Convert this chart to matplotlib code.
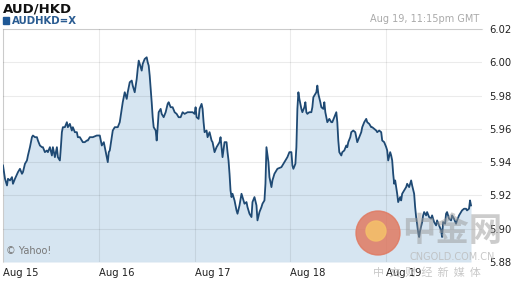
import matplotlib
matplotlib.use("Agg")
import matplotlib.pyplot as plt
from matplotlib.patches import Ellipse, Rectangle

# ---- data (hours since Aug 15 00:00 GMT, AUD/HKD rate) ----
hours = [0.0, 0.5, 1.0, 1.25, 1.75, 2.25, 2.5, 3.0, 3.75, 4.25, 4.75, 5.0, 5.5, 6.0, 6.25, 6.75,
         7.25, 7.5, 8.0, 8.5, 8.75, 9.25, 9.75, 10.0, 10.5, 11.0, 11.25, 11.75, 12.25, 12.5, 13.0,
         13.5, 13.75, 14.25, 14.5, 14.75, 15.0, 15.5, 16.0, 16.25, 16.75, 17.25, 17.5, 18.0, 18.5,
         18.75, 19.25, 19.75, 20.0, 20.5, 21.0, 21.25, 21.75, 22.5, 23.5, 24.25,
         24.75, 25.25, 25.75, 26.25, 26.5, 26.75, 27.25, 27.5, 28.0, 28.75, 29.25, 29.75, 30.0,
         30.5, 31.0, 31.25, 31.75, 32.25, 32.5, 33.0, 33.5, 33.75, 34.0, 34.5, 34.75, 35.0, 35.5,
         36.0, 36.25, 36.5, 36.75, 37.0, 37.25, 37.5, 37.75, 38.25, 38.5, 38.75, 39.0, 39.5,
         39.75, 40.25, 40.75, 41.25, 41.5, 42.0, 42.5, 43.0, 43.5, 44.0, 44.5, 45.0, 45.5, 46.25,
         46.75, 47.25, 47.5, 48.0, 48.25, 48.5, 49.0, 49.25, 49.75, 50.0, 50.25, 50.5, 51.0,
         51.25, 51.75, 52.25, 52.5, 53.0, 53.5, 53.75, 54.25, 54.5, 54.75, 55.0, 55.5, 56.0,
         56.25, 56.5, 56.75, 57.0, 57.25, 57.5, 58.0, 58.5, 58.75, 59.25, 59.75, 60.0, 60.5,
         61.0, 61.25, 61.75, 62.25, 62.5, 63.0, 63.5, 63.75, 64.25, 64.75, 65.0, 65.5, 65.75,
         66.0, 66.5, 66.75, 67.25, 67.5, 68.0, 68.5, 68.75, 69.75, 70.5, 71.25, 71.75, 72.25,
         72.5, 72.75, 73.25, 73.5, 73.75, 74.0, 74.25, 74.75, 75.0, 75.5, 75.75, 76.0, 76.25,
         76.75, 77.25, 77.5, 77.75, 78.25, 78.5, 78.75, 79.0, 79.5, 79.75, 80.25, 80.5, 80.75,
         81.0, 81.25, 81.75, 82.25, 82.5, 83.0, 83.5, 83.75, 84.0, 84.25, 84.75, 85.0, 85.5,
         86.0, 86.25, 86.5, 87.0, 87.25, 87.75, 88.25, 88.5, 88.75, 89.25, 89.75, 90.0, 90.5,
         91.0, 91.25, 91.75, 92.25, 92.5, 93.0, 93.5, 93.75, 94.25, 94.75, 95.0, 95.5, 96.0, 96.25,
         96.5, 97.0, 97.25, 97.5, 97.75, 98.0, 98.25, 98.5, 98.75, 99.0, 99.5, 99.75, 100.0,
         100.5, 101.0, 101.25, 101.75, 102.25, 102.5, 103.0, 103.25, 103.5, 103.75, 104.0,
         104.25, 104.5, 105.0, 105.25, 105.5, 106.0, 106.25, 106.75, 107.25, 107.5, 108.0,
         108.5, 108.75, 109.25, 109.75, 110.0, 110.25, 110.75, 111.0, 111.25, 111.75, 112.25,
         112.5, 113.0, 113.5, 113.75, 114.25, 114.75, 115.0, 115.5, 116.0, 116.25, 116.75,
         117.0, 117.25]
rate = [5.938, 5.930, 5.926, 5.930, 5.929, 5.931, 5.927, 5.930, 5.934, 5.936, 5.933, 5.934, 5.939,
        5.941, 5.944, 5.949, 5.955, 5.956, 5.955, 5.955, 5.953, 5.950, 5.949, 5.949, 5.946, 5.947,
        5.946, 5.949, 5.944, 5.949, 5.943, 5.949, 5.943, 5.941, 5.949, 5.958, 5.961, 5.961, 5.964,
        5.961, 5.963, 5.959, 5.961, 5.958, 5.958, 5.955, 5.955, 5.953, 5.952, 5.952, 5.953, 5.953,
        5.955, 5.955, 5.956, 5.956,
        5.950, 5.952, 5.946, 5.940, 5.946, 5.947, 5.955, 5.959, 5.961, 5.961, 5.964, 5.972, 5.976,
        5.982, 5.978, 5.982, 5.988, 5.989, 5.986, 5.982, 5.990, 5.996, 6.001, 5.997, 5.995, 5.999,
        6.002, 6.003, 6.000, 5.998, 5.992, 5.984, 5.976, 5.967, 5.961, 5.959, 5.953, 5.961, 5.970,
        5.972, 5.969, 5.967, 5.970, 5.975, 5.976, 5.973, 5.973, 5.970, 5.969, 5.967, 5.967, 5.970,
        5.969, 5.970,
        5.970, 5.970, 5.970, 5.969, 5.973, 5.967, 5.966, 5.972, 5.975, 5.972, 5.964, 5.958, 5.959,
        5.955, 5.958, 5.953, 5.952, 5.946, 5.949, 5.950, 5.952, 5.955, 5.949, 5.943, 5.952, 5.952,
        5.946, 5.941, 5.933, 5.923, 5.919, 5.921, 5.917, 5.911, 5.909, 5.914, 5.921, 5.919, 5.915,
        5.916, 5.913, 5.909, 5.907, 5.916, 5.919, 5.914, 5.905, 5.910, 5.913, 5.915, 5.917, 5.927,
        5.949, 5.940, 5.931, 5.925, 5.929, 5.933, 5.935, 5.936, 5.937, 5.940, 5.943, 5.946, 5.946,
        5.938, 5.936, 5.939, 5.949, 5.972, 5.982, 5.978, 5.972, 5.970, 5.973, 5.976, 5.970, 5.969,
        5.970, 5.970, 5.973, 5.979, 5.981, 5.982, 5.986, 5.981, 5.976, 5.973, 5.972, 5.976, 5.970,
        5.967, 5.964, 5.966, 5.964, 5.964, 5.967, 5.970, 5.964, 5.953, 5.946, 5.944, 5.946, 5.947,
        5.950, 5.949, 5.952, 5.955, 5.958, 5.959, 5.958, 5.955, 5.952, 5.955, 5.958, 5.961, 5.964,
        5.966, 5.964, 5.963, 5.961, 5.961, 5.960, 5.959, 5.958, 5.959, 5.958, 5.953, 5.952, 5.949,
        5.947,
        5.941, 5.946, 5.944, 5.941, 5.933, 5.927, 5.929, 5.925, 5.921, 5.916, 5.919, 5.917, 5.921,
        5.923, 5.925, 5.927, 5.925, 5.929, 5.926, 5.921, 5.913, 5.907, 5.903, 5.898, 5.895, 5.899,
        5.904, 5.908, 5.910, 5.908, 5.910, 5.907, 5.906, 5.908, 5.904, 5.902, 5.905, 5.902, 5.899,
        5.895, 5.904, 5.903, 5.909, 5.910, 5.906, 5.905, 5.908, 5.906, 5.903, 5.905, 5.908, 5.910,
        5.911, 5.912, 5.912, 5.911, 5.912, 5.917, 5.914]

xtick_hours = [0, 24, 48, 72, 96]
xtick_labels = ["Aug 15", "Aug 16", "Aug 17", "Aug 18", "Aug 19"]
ytick_values = [5.88, 5.90, 5.92, 5.94, 5.96, 5.98, 6.00, 6.02]
ytick_labels = ["5.88", "5.90", "5.92", "5.94", "5.96", "5.98", "6.00", "6.02"]

W, H = 512, 288
fig = plt.figure(figsize=(W / 100, H / 100), dpi=100)
fig.patch.set_facecolor("white")

left, right, top, bottom = 3, 482, 29, 262
ax = fig.add_axes([left / W, 1 - bottom / H, (right - left) / W, (bottom - top) / H])
ax.set_xlim(0, 120)
ax.set_ylim(5.88, 6.02)

ax.fill_between(hours, rate, 5.88, color="#d6e5f1", lw=0, zorder=1)
ax.plot(hours, rate, color="#1f4a74", lw=1.3, zorder=3)

ax.set_xticks(xtick_hours)
ax.set_xticklabels(xtick_labels, ha="left")
ax.set_yticks(ytick_values)
ax.set_yticklabels(ytick_labels)
ax.yaxis.tick_right()
ax.tick_params(axis="both", length=0, labelsize=7.2, colors="#222222")
ax.tick_params(axis="x", pad=4)
ax.tick_params(axis="y", pad=5)
ax.grid(True, color="#000000", alpha=0.08, lw=0.8, zorder=2)
ax.set_axisbelow(False)
for s in ["right", "bottom"]:
    ax.spines[s].set_visible(False)
for s in ["left", "top"]:
    ax.spines[s].set_color("#dddddd")
    ax.spines[s].set_linewidth(0.8)

# headers
fig.text(3 / W, 1 - 9 / H, "AUD/HKD", fontsize=9.5, fontweight="bold", color="#111111",
         va="center", ha="left")
fig.patches.append(Rectangle((3 / W, 1 - 24 / H), 6 / W, 7 / H, transform=fig.transFigure,
                             color="#1f5896", figure=fig))
fig.text(12 / W, 1 - 20.5 / H, "AUDHKD=X", fontsize=7.3, fontweight="bold", color="#2a5c92",
         va="center", ha="left")
fig.text(479 / W, 1 - 19 / H, "Aug 19, 11:15pm GMT", fontsize=7, color="#aaaaaa",
         va="center", ha="right")
fig.text(6 / W, 1 - 251 / H, "© Yahoo!", fontsize=7, color="#777777", va="center", ha="left")

# watermark
fig.patches.append(Ellipse((378 / W, 1 - 233 / H), 44 / W, 44 / H, transform=fig.transFigure,
                           color="#e07a62", alpha=0.85, figure=fig))
fig.patches.append(Ellipse((376 / W, 1 - 231 / H), 20 / W, 20 / H, transform=fig.transFigure,
                           color="#f4bf6a", alpha=0.9, figure=fig))
cjk = ["Noto Sans CJK SC", "DejaVu Sans"]
fig.text(452 / W, 1 - 232 / H, "中金网", fontsize=24, fontweight="bold", color="#9a9a9a",
         alpha=0.5, va="center", ha="center", family=cjk)
fig.text(452 / W, 1 - 257 / H, "CNGOLD.COM.CN", fontsize=7, color="#bbbbbb",
         alpha=0.8, va="center", ha="center")
fig.text(427 / W, 1 - 272 / H, "中  文  财  经  新  媒  体", fontsize=8, color="#bbbbbb",
         alpha=0.8, va="center", ha="center", family=cjk)

fig.savefig("out.png", dpi=100)
